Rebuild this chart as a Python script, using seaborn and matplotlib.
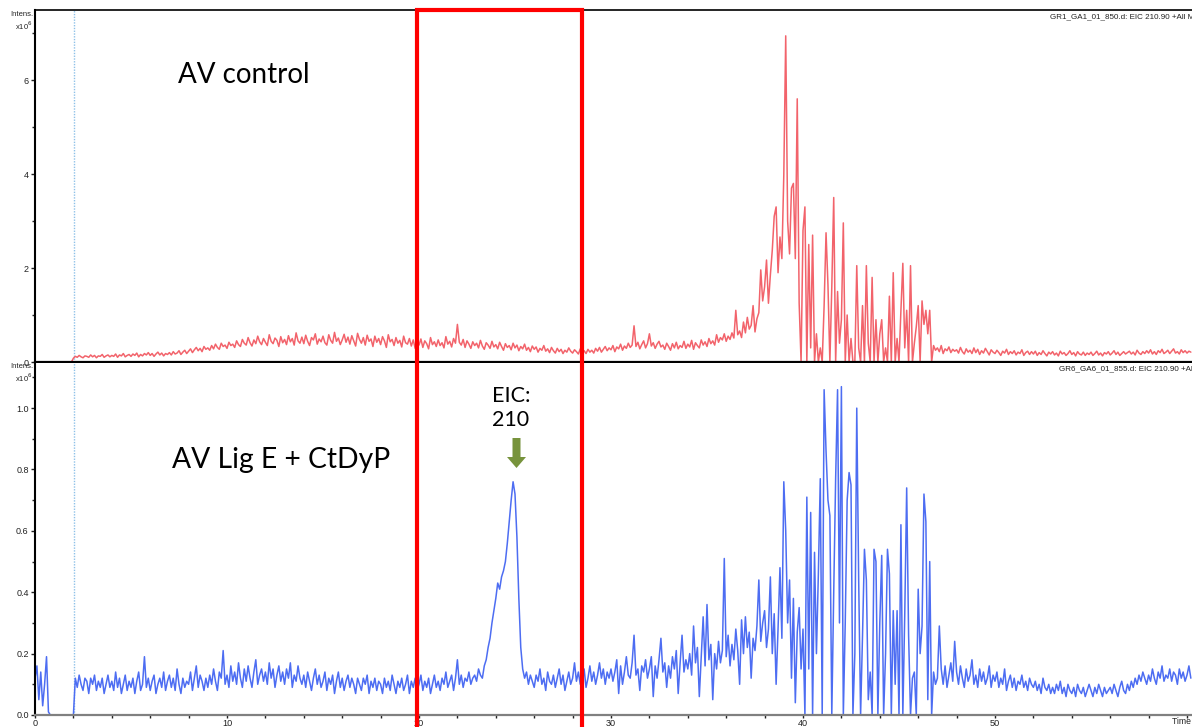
import numpy as np
import pandas as pd
import matplotlib
matplotlib.use("Agg")
import matplotlib.pyplot as plt
import seaborn as sns
from matplotlib.patches import Rectangle, Polygon
from matplotlib.ticker import MultipleLocator

# ---------------- data (intensity in units of 10^6, sampled every 0.1 min) ----------------
SAMPLE_STEP_MIN = 0.1

control_intensity = [
    0, 0, 0, 0, 0, 0, 0, 0, 0, 0,                                   # 0
    0, 0, 0, 0, 0, 0, 0, 0, 0, 0,                                   # 1
    0.08, 0.12, 0.10, 0.14, 0.11, 0.09, 0.13, 0.12, 0.10, 0.15,     # 2
    0.11, 0.14, 0.09, 0.13, 0.12, 0.16, 0.10, 0.13, 0.15, 0.11,     # 3
    0.14, 0.12, 0.17, 0.10, 0.15, 0.13, 0.18, 0.11, 0.14, 0.16,     # 4
    0.12, 0.17, 0.14, 0.19, 0.11, 0.16, 0.13, 0.18, 0.15, 0.20,     # 5
    0.14, 0.18, 0.12, 0.17, 0.21, 0.15, 0.19, 0.13, 0.18, 0.16,     # 6
    0.20, 0.15, 0.22, 0.17, 0.19, 0.24, 0.16, 0.21, 0.25, 0.18,     # 7
    0.23, 0.28, 0.20, 0.26, 0.31, 0.24, 0.29, 0.22, 0.33, 0.27,     # 8
    0.30, 0.25, 0.35, 0.28, 0.38, 0.31, 0.27, 0.40, 0.33, 0.36,     # 9
    0.29, 0.42, 0.35, 0.38, 0.31, 0.45, 0.37, 0.33, 0.48, 0.40,     # 10
    0.36, 0.52, 0.41, 0.34, 0.47, 0.39, 0.55, 0.43, 0.37, 0.50,     # 11
    0.42, 0.35, 0.58, 0.44, 0.39, 0.51, 0.46, 0.33, 0.54, 0.41,     # 12
    0.48, 0.37, 0.56, 0.43, 0.50, 0.36, 0.62, 0.45, 0.40, 0.53,     # 13
    0.39, 0.57, 0.44, 0.35, 0.52, 0.47, 0.60, 0.38, 0.49, 0.43,     # 14
    0.55, 0.41, 0.36, 0.58, 0.46, 0.40, 0.63, 0.44, 0.51, 0.37,     # 15
    0.47, 0.59, 0.42, 0.53, 0.38, 0.56, 0.45, 0.34, 0.61, 0.48,     # 16
    0.40, 0.52, 0.36, 0.57, 0.44, 0.49, 0.33, 0.55, 0.42, 0.50,     # 17
    0.37, 0.54, 0.45, 0.31, 0.58, 0.43, 0.48, 0.35, 0.52, 0.40,     # 18
    0.46, 0.32, 0.55, 0.41, 0.38, 0.50, 0.34, 0.47, 0.29, 0.44,     # 19
    0.36, 0.49, 0.31, 0.45, 0.39, 0.28, 0.52, 0.37, 0.43, 0.33,     # 20
    0.47, 0.35, 0.41, 0.30, 0.54, 0.38, 0.44, 0.32, 0.50, 0.40,     # 21
    0.80, 0.42, 0.36, 0.48, 0.31, 0.45, 0.38, 0.29, 0.43, 0.35,     # 22
    0.40, 0.30, 0.46, 0.34, 0.27, 0.41, 0.36, 0.29, 0.44, 0.32,     # 23
    0.37, 0.28, 0.42, 0.33, 0.25, 0.39, 0.31, 0.35, 0.26, 0.40,     # 24
    0.30, 0.36, 0.24, 0.33, 0.28, 0.38, 0.25, 0.31, 0.22, 0.34,     # 25
    0.27, 0.32, 0.21, 0.29, 0.25, 0.35, 0.23, 0.28, 0.20, 0.31,     # 26
    0.24, 0.19, 0.29, 0.22, 0.27, 0.18, 0.25, 0.21, 0.30, 0.23,     # 27
    0.19, 0.26, 0.22, 0.17, 0.28, 0.20, 0.24, 0.18, 0.27, 0.21,     # 28
    0.25, 0.19, 0.29, 0.23, 0.31, 0.21, 0.27, 0.33, 0.24, 0.30,     # 29
    0.26, 0.35, 0.22, 0.32, 0.28, 0.38, 0.25, 0.34, 0.29, 0.40,     # 30
    0.31, 0.36, 0.77, 0.33, 0.42, 0.28, 0.37, 0.45, 0.30, 0.39,     # 31
    0.60, 0.34, 0.41, 0.29, 0.38, 0.44, 0.32, 0.36, 0.27, 0.40,     # 32
    0.33, 0.25, 0.39, 0.30, 0.42, 0.28, 0.35, 0.31, 0.44, 0.29,     # 33
    0.38, 0.32, 0.46, 0.27, 0.41, 0.35, 0.30, 0.47, 0.36, 0.43,     # 34
    0.33, 0.50, 0.39, 0.45, 0.36, 0.58, 0.42, 0.52, 0.47, 0.60,     # 35
    0.44, 0.55, 0.48, 0.62, 0.51, 1.10, 0.58, 0.66, 0.52, 0.85,     # 36
    0.62, 0.95, 0.70, 0.78, 1.20, 0.64, 0.92, 1.05, 1.96, 1.30,     # 37
    1.60, 2.17, 1.25, 1.85, 2.38, 3.10, 3.30, 1.90, 2.66, 2.20,     # 38
    3.98, 6.94, 3.00, 2.30, 3.70, 3.80, 2.20, 5.60, 1.25, 0.00,     # 39
    2.80, 3.30, 0.00, 2.50, 0.30, 2.70, 0.00, 0.60, 0.00, 0.30,     # 40
    0.00, 1.20, 2.75, 1.64, 0.00, 1.60, 3.50, 0.00, 1.50, 0.40,     # 41
    0.90, 2.96, 0.00, 1.00, 0.00, 0.50, 0.00, 0.00, 2.05, 0.30,     # 42
    0.00, 1.20, 0.00, 2.05, 0.40, 0.00, 1.80, 0.00, 0.90, 0.00,     # 43
    0.60, 0.90, 0.00, 0.30, 0.00, 1.40, 0.00, 1.90, 0.00, 0.50,     # 44
    0.00, 1.10, 2.10, 0.30, 1.10, 0.00, 2.05, 0.00, 0.40, 0.75,     # 45
    1.20, 0.00, 1.30, 0.80, 1.10, 0.60, 1.10, 0.00, 0.35, 0.25,     # 46
    0.30, 0.22, 0.35, 0.18, 0.28, 0.24, 0.32, 0.20, 0.27, 0.23,     # 47
    0.26, 0.19, 0.31, 0.22, 0.17, 0.28, 0.21, 0.25, 0.18, 0.30,     # 48
    0.20, 0.27, 0.16, 0.24, 0.19, 0.29, 0.22, 0.15, 0.26, 0.21,     # 49
    0.18, 0.25, 0.20, 0.14, 0.23, 0.19, 0.27, 0.16, 0.22, 0.18,     # 50
    0.24, 0.15, 0.21, 0.18, 0.26, 0.14, 0.20, 0.23, 0.16, 0.22,     # 51
    0.17, 0.23, 0.14, 0.20, 0.16, 0.24, 0.18, 0.13, 0.21, 0.17,     # 52
    0.22, 0.15, 0.19, 0.13, 0.23, 0.17, 0.20, 0.14, 0.18, 0.24,     # 53
    0.16, 0.20, 0.13, 0.22, 0.17, 0.15, 0.21, 0.14, 0.19, 0.16,     # 54
    0.21, 0.14, 0.18, 0.23, 0.15, 0.19, 0.13, 0.20, 0.17, 0.22,     # 55
    0.15, 0.19, 0.24, 0.16, 0.21, 0.14, 0.18, 0.22, 0.17, 0.20,     # 56
    0.23, 0.17, 0.21, 0.15, 0.25, 0.19, 0.16, 0.22, 0.18, 0.24,     # 57
    0.19, 0.26, 0.17, 0.22, 0.16, 0.24, 0.20, 0.27, 0.18, 0.21,     # 58
    0.25, 0.18, 0.23, 0.28, 0.19, 0.22, 0.17, 0.26, 0.20, 0.24,     # 59
    0.19, 0.23, 0.21,                                               # 60
]

treated_intensity = [
    0.12, 0.16, 0.05, 0.14, 0.03, 0.10, 0.19, 0.01, 0.00, 0.00,     # 0
    0, 0, 0, 0, 0, 0, 0, 0, 0, 0,                                   # 1
    0.00, 0.12, 0.09, 0.13, 0.10, 0.08, 0.12, 0.11, 0.07, 0.12,     # 2
    0.10, 0.13, 0.08, 0.11, 0.09, 0.12, 0.07, 0.10, 0.13, 0.09,     # 3
    0.11, 0.08, 0.14, 0.09, 0.12, 0.07, 0.10, 0.13, 0.08, 0.11,     # 4
    0.09, 0.12, 0.07, 0.11, 0.14, 0.08, 0.10, 0.19, 0.09, 0.12,     # 5
    0.08, 0.11, 0.13, 0.07, 0.10, 0.12, 0.09, 0.14, 0.08, 0.11,     # 6
    0.13, 0.09, 0.12, 0.08, 0.15, 0.10, 0.07, 0.12, 0.09, 0.11,     # 7
    0.10, 0.14, 0.08, 0.12, 0.16, 0.09, 0.13, 0.11, 0.08, 0.12,     # 8
    0.09, 0.13, 0.10, 0.15, 0.11, 0.08, 0.14, 0.12, 0.21, 0.10,     # 9
    0.13, 0.09, 0.16, 0.11, 0.14, 0.10, 0.17, 0.12, 0.09, 0.15,     # 10
    0.11, 0.16, 0.12, 0.09, 0.14, 0.18, 0.10, 0.13, 0.15, 0.11,     # 11
    0.14, 0.10, 0.17, 0.12, 0.15, 0.09, 0.13, 0.16, 0.11, 0.14,     # 12
    0.10, 0.15, 0.12, 0.17, 0.09, 0.13, 0.11, 0.16, 0.12, 0.10,     # 13
    0.13, 0.09, 0.14, 0.11, 0.08, 0.12, 0.15, 0.10, 0.13, 0.09,     # 14
    0.11, 0.14, 0.08, 0.12, 0.10, 0.13, 0.07, 0.11, 0.14, 0.09,     # 15
    0.12, 0.08, 0.11, 0.13, 0.09, 0.12, 0.10, 0.07, 0.12, 0.10,     # 16
    0.08, 0.12, 0.10, 0.13, 0.07, 0.11, 0.09, 0.12, 0.08, 0.11,     # 17
    0.10, 0.07, 0.12, 0.09, 0.11, 0.08, 0.13, 0.10, 0.07, 0.11,     # 18
    0.09, 0.12, 0.08, 0.10, 0.13, 0.07, 0.11, 0.09, 0.12, 0.08,     # 19
    0.10, 0.13, 0.08, 0.11, 0.09, 0.12, 0.07, 0.10, 0.13, 0.09,     # 20
    0.11, 0.08, 0.12, 0.10, 0.14, 0.09, 0.11, 0.13, 0.08, 0.12,     # 21
    0.18, 0.10, 0.13, 0.09, 0.12, 0.11, 0.14, 0.10, 0.12, 0.13,     # 22
    0.11, 0.15, 0.13, 0.12, 0.16, 0.18, 0.22, 0.25, 0.30, 0.34,     # 23
    0.38, 0.43, 0.41, 0.45, 0.47, 0.50, 0.56, 0.63, 0.70, 0.76,     # 24
    0.72, 0.58, 0.38, 0.22, 0.15, 0.12, 0.14, 0.10, 0.13, 0.11,     # 25
    0.09, 0.13, 0.11, 0.15, 0.10, 0.12, 0.08, 0.14, 0.11, 0.10,     # 26
    0.13, 0.09, 0.12, 0.15, 0.10, 0.13, 0.08, 0.11, 0.14, 0.10,     # 27
    0.12, 0.17, 0.11, 0.14, 0.10, 0.13, 0.15, 0.09, 0.12, 0.16,     # 28
    0.11, 0.14, 0.10, 0.13, 0.17, 0.12, 0.15, 0.10, 0.14, 0.12,     # 29
    0.15, 0.11, 0.14, 0.18, 0.07, 0.16, 0.10, 0.14, 0.19, 0.13,     # 30
    0.12, 0.17, 0.26, 0.13, 0.15, 0.08, 0.16, 0.14, 0.18, 0.12,     # 31
    0.15, 0.19, 0.06, 0.16, 0.12, 0.18, 0.25, 0.14, 0.17, 0.09,     # 32
    0.16, 0.12, 0.19, 0.15, 0.21, 0.07, 0.17, 0.26, 0.14, 0.18,     # 33
    0.15, 0.20, 0.13, 0.29, 0.17, 0.22, 0.06, 0.19, 0.32, 0.16,     # 34
    0.36, 0.18, 0.23, 0.05, 0.20, 0.15, 0.24, 0.17, 0.21, 0.51,     # 35
    0.19, 0.26, 0.16, 0.23, 0.18, 0.28, 0.21, 0.10, 0.31, 0.20,     # 36
    0.32, 0.22, 0.27, 0.12, 0.25, 0.21, 0.29, 0.44, 0.24, 0.30,     # 37
    0.34, 0.22, 0.28, 0.45, 0.20, 0.33, 0.10, 0.28, 0.48, 0.25,     # 38
    0.76, 0.60, 0.30, 0.44, 0.12, 0.38, 0.04, 0.27, 0.35, 0.15,     # 39
    0.28, 0.00, 0.71, 0.15, 0.66, 0.00, 0.53, 0.20, 0.46, 0.77,     # 40
    0.00, 1.06, 0.86, 0.70, 0.65, 0.00, 0.40, 0.77, 1.06, 0.30,     # 41
    1.07, 0.00, 0.30, 0.70, 0.79, 0.75, 0.00, 0.20, 1.00, 0.44,     # 42
    0.00, 0.26, 0.54, 0.44, 0.05, 0.14, 0.00, 0.54, 0.50, 0.00,     # 43
    0.30, 0.52, 0.00, 0.20, 0.54, 0.46, 0.00, 0.34, 0.10, 0.34,     # 44
    0.00, 0.62, 0.00, 0.33, 0.74, 0.26, 0.00, 0.12, 0.14, 0.00,     # 45
    0.41, 0.20, 0.29, 0.72, 0.63, 0.05, 0.50, 0.00, 0.14, 0.10,     # 46
    0.12, 0.29, 0.15, 0.10, 0.16, 0.09, 0.13, 0.17, 0.11, 0.24,     # 47
    0.14, 0.10, 0.16, 0.12, 0.09, 0.15, 0.11, 0.13, 0.18, 0.10,     # 48
    0.13, 0.09, 0.15, 0.11, 0.14, 0.10, 0.12, 0.16, 0.09, 0.13,     # 49
    0.11, 0.14, 0.09, 0.12, 0.10, 0.15, 0.08, 0.11, 0.13, 0.09,     # 50
    0.12, 0.08, 0.11, 0.10, 0.13, 0.09, 0.11, 0.08, 0.12, 0.10,     # 51
    0.09, 0.11, 0.08, 0.10, 0.07, 0.12, 0.09, 0.08, 0.10, 0.07,     # 52
    0.09, 0.07, 0.10, 0.08, 0.11, 0.07, 0.09, 0.06, 0.10, 0.08,     # 53
    0.07, 0.09, 0.06, 0.10, 0.08, 0.07, 0.09, 0.06, 0.08, 0.10,     # 54
    0.08, 0.06, 0.09, 0.07, 0.10, 0.08, 0.06, 0.09, 0.07, 0.08,     # 55
    0.09, 0.07, 0.10, 0.08, 0.06, 0.09, 0.11, 0.08, 0.07, 0.10,     # 56
    0.08, 0.11, 0.09, 0.12, 0.10, 0.13, 0.11, 0.14, 0.12, 0.10,     # 57
    0.13, 0.11, 0.15, 0.12, 0.10, 0.14, 0.12, 0.16, 0.11, 0.13,     # 58
    0.12, 0.15, 0.11, 0.14, 0.13, 0.10, 0.15, 0.12, 0.14, 0.11,     # 59
    0.13, 0.16, 0.12,                                               # 60
]

x_major_ticks = [0, 10, 20, 30, 40, 50, 60]
x_tick_labels = ["0", "10", "20", "30", "40", "50", ""]
top_y_ticks = [0, 2, 4, 6]
bottom_y_ticks = [0.0, 0.2, 0.4, 0.6, 0.8, 1.0]

top_title = "GR1_GA1_01_850.d: EIC 210.90 +All MS"
bottom_title = "GR6_GA6_01_855.d: EIC 210.90 +All MS"
top_label = "AV control"
bottom_label = "AV Lig E + CtDyP"
peak_label = "EIC:\n210"
highlight_window_px = (416.5, 582.0)   # red box (figure pixels)
marker_time = 2.03                      # dotted injection marker

# ---------------- build frames ----------------
def frame(values):
    t = np.round(np.arange(len(values)) * SAMPLE_STEP_MIN, 2)
    return pd.DataFrame({"time": t, "intensity": values})

df_top = frame(control_intensity)
df_bot = frame(treated_intensity)

# ---------------- figure ----------------
sns.set_style("white")
plt.rcParams["font.family"] = ["Liberation Sans", "DejaVu Sans"]

W, H = 1192, 727
fig = plt.figure(figsize=(W / 100, H / 100), dpi=100)

def fx(px):
    return px / W

def fy(py):
    return 1 - py / H

ax1 = fig.add_axes([fx(35), fy(362), fx(1192) - fx(35), fy(10) - fy(362)])
ax2 = fig.add_axes([fx(35), fy(715), fx(1192) - fx(35), fy(363) - fy(715)])

red = "#F2636B"
blue = "#4D6DF2"
sns.lineplot(data=df_top, x="time", y="intensity", ax=ax1, color=red, lw=1.1,
             estimator=None, sort=False)
sns.lineplot(data=df_bot, x="time", y="intensity", ax=ax2, color=blue, lw=1.1,
             estimator=None, sort=False)

xmax = (1192 - 35) / 19.2
for ax in (ax1, ax2):
    ax.set_xlim(0, xmax)
    ax.set_xlabel("")
    ax.set_ylabel("")
    ax.set_facecolor("white")
    ax.spines["right"].set_visible(False)
    ax.axvline(marker_time, color="#8EC1E8", lw=1.0, ls=(0, (1, 1)), zorder=1)
    ax.tick_params(axis="y", which="major", direction="out", length=3, width=1,
                   labelsize=6.5, colors="#222222", pad=1.5, left=True)
    ax.tick_params(axis="y", which="minor", direction="out", length=2.2, width=1,
                   left=True)

ax1.set_ylim(0, 7.49)
ax1.set_yticks(top_y_ticks)
ax1.set_yticklabels([str(v) for v in top_y_ticks])
ax1.yaxis.set_minor_locator(MultipleLocator(1))
ax1.set_xticks([])
for s in ("top", "left", "bottom"):
    ax1.spines[s].set_color("black")
ax1.spines["top"].set_linewidth(1.2)
ax1.spines["left"].set_linewidth(1.5)
ax1.spines["bottom"].set_linewidth(1.6)

ax2.set_ylim(0, 1.147)
ax2.set_yticks(bottom_y_ticks)
ax2.set_yticklabels([f"{v:.1f}" for v in bottom_y_ticks])
ax2.yaxis.set_minor_locator(MultipleLocator(0.1))
ax2.set_xticks(x_major_ticks)
ax2.set_xticklabels(x_tick_labels)
ax2.xaxis.set_minor_locator(MultipleLocator(2))
ax2.tick_params(axis="x", which="major", direction="out", length=2.2, width=1,
                labelsize=6.6, colors="#222222", pad=0.6, bottom=True)
ax2.tick_params(axis="x", which="minor", direction="out", length=2.2, width=1,
                bottom=True, colors="#222222")
ax2.spines["top"].set_visible(False)
ax2.spines["left"].set_color("black")
ax2.spines["left"].set_linewidth(1.5)
ax2.spines["bottom"].set_color("#808080")
ax2.spines["bottom"].set_linewidth(1.6)

# axis captions
for ytop in (15, 367):
    fig.text(fx(33), fy(ytop), "Intens.", ha="right", va="center", fontsize=5.5,
             color="#222222")
    fig.text(fx(33), fy(ytop + 11), r"x10$^6$", ha="right", va="center",
             fontsize=5.5, color="#222222")
fig.text(fx(1172), fy(722), "Time [min]", ha="left", va="center", fontsize=6.2,
         color="#222222")
fig.text(fx(1050), fy(17), top_title, ha="left", va="center", fontsize=5.8,
         color="#222222")
fig.text(fx(1059), fy(369), bottom_title, ha="left", va="center", fontsize=5.8,
         color="#222222")

# sample labels
fig.text(fx(178), fy(75), top_label, ha="left", va="center", fontsize=20,
         family=["Lato", "DejaVu Sans"], color="black")
fig.text(fx(172), fy(460), bottom_label, ha="left", va="center", fontsize=20.3,
         family=["Lato", "DejaVu Sans"], color="black")
fig.text(fx(511), fy(408), peak_label, ha="center", va="center", fontsize=15.5,
         family=["Lato", "DejaVu Sans"], color="black", linespacing=1.3)

# green arrow (figure pixel geometry)
arrow_px = [(512.5, 438), (520.5, 438), (520.5, 457), (526, 457), (516.5, 468),
            (507, 457), (512.5, 457)]
fig.add_artist(Polygon([(fx(x), fy(y)) for x, y in arrow_px], closed=True,
                       transform=fig.transFigure, facecolor="#77933C",
                       edgecolor="none", zorder=10))

# red highlight box
x0, x1 = highlight_window_px
fig.add_artist(Rectangle((fx(x0), fy(735)), fx(x1) - fx(x0), fy(10) - fy(735),
                         transform=fig.transFigure, fill=False,
                         edgecolor="#FF0000", lw=3, zorder=20, clip_on=False))

fig.savefig("out.png", dpi=100)
